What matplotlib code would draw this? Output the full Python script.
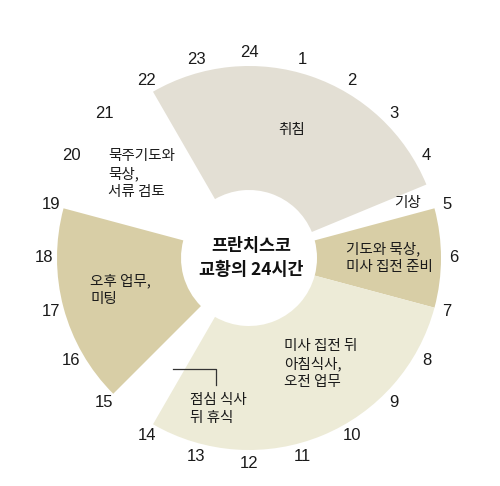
import numpy as np
import matplotlib
matplotlib.use("Agg")
import matplotlib.pyplot as plt
from matplotlib.patches import Wedge

plt.rcParams['font.family'] = ['Noto Sans CJK KR', 'DejaVu Sans']

# activities: start hour, end hour (clock), colour
seg_start = [22, 5, 7, 15]
seg_end = [4.5, 7, 14, 19]
seg_color = ['#e3dfd4', '#d8cea6', '#edebd7', '#d8cea6']

hours = list(range(1, 25))

labels = ['취침', '기상', '기도와 묵상,\n미사 집전 준비', '미사 집전 뒤\n아침식사,\n오전 업무',
          '점심 식사\n뒤 휴식', '오후 업무,\n미팅', '묵주기도와\n묵상,\n서류 검토']
label_x = [292, 407, 346, 284, 190, 90, 108]
label_y = [130, 203, 258, 364, 409, 290, 174]
label_ha = ['center', 'center', 'left', 'left', 'left', 'left', 'left']

title = '프란치스코\n교황의 24시간'

W, H = 500, 486
cx, cy = 249, 258
r_out, r_in, r_lab = 192, 68, 205

fig = plt.figure(figsize=(W / 100, H / 100), dpi=100)
ax = fig.add_axes([0, 0, 1, 1])
ax.set_xlim(0, W)
ax.set_ylim(0, H)
ax.set_aspect('equal')
ax.axis('off')


def ang(h):
    # clock hour -> math angle (deg), 24 at top, clockwise
    return 90 - h * 15


for s, e, c in zip(seg_start, seg_end, seg_color):
    if e < s:
        e = e + 24
    ax.add_patch(Wedge((cx, H - cy), r_out, ang(e), ang(s), width=r_out - r_in,
                       facecolor=c, edgecolor='none'))

num_font = ['Liberation Sans', 'DejaVu Sans']
for h in hours:
    a = np.radians(ang(h))
    ax.text(cx + r_lab * np.cos(a), H - cy + r_lab * np.sin(a), str(h),
            ha='center', va='center', fontsize=12, color='#1a1a1a', family=num_font)

for t, x, y, ha in zip(labels, label_x, label_y, label_ha):
    ax.text(x, H - y, t, ha=ha, va='center', fontsize=10.5, color='#1a1a1a',
            linespacing=1.3)

ax.text(cx + 2, H - cy, title, ha='center', va='center', fontsize=12.5,
        fontweight='bold', color='#111111', linespacing=1.4)

# leader line for lunch
ax.plot([173, 216, 216], [H - 369, H - 369, H - 385], color='#333333', lw=0.9)

fig.savefig('out.png', dpi=100)
